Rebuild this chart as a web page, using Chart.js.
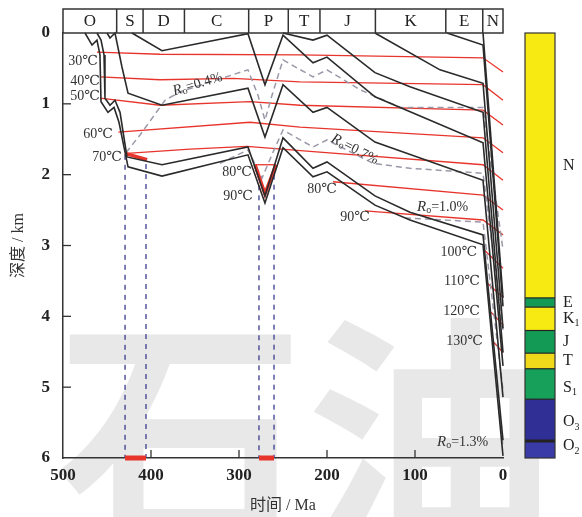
<!DOCTYPE html>
<html>
<head>
<meta charset="utf-8">
<script src="https://cdn.jsdelivr.net/npm/chart.js@4"></script>
<style>
  html, body { margin: 0; padding: 0; background: #fff; }
</style>
</head>
<body>
<canvas id="burialChart" width="582" height="517"></canvas>
<script>
const SERIF = "'Liberation Serif', 'DejaVu Serif', 'Noto Sans CJK SC', serif";

// axis ticks
const ageTicks = [500, 400, 300, 200, 100, 0];
const depthTicks = [0, 1, 2, 3, 4, 5, 6];

// geological periods along the top band (start age, Ma)
const periodNames = ["O", "S", "D", "C", "P", "T", "J", "K", "E", "N"];
const periodStart = [500, 439, 409, 362, 289, 244, 208, 145, 65, 23];

// burial history of horizons: [age Ma, depth km]
const horizonO2 = [[475,0],[467,0.17],[461.4,0.10],[458,0.31],[456.8,0.97],[448.9,1.12],[442,1.05],[436.4,1.26],[426.1,1.89],[387.5,2.02],[289.8,1.72],[270.5,2.40],[250,1.62],[215.9,2.03],[200,1.96],[145.5,2.43],[105.7,2.64],[22.7,2.99],[0,5.97]];
const horizonO3 = [[461.4,0],[456.8,0.10],[453.4,0.31],[452.3,0.92],[446.6,1.02],[440.9,0.95],[435.2,1.12],[427.3,1.75],[387.5,1.86],[289.8,1.61],[270.5,2.30],[250,1.48],[215.9,1.91],[200,1.82],[145.5,2.30],[105.7,2.53],[22.7,2.85],[0,5.75]];
const horizonS1 = [[450,0],[446.6,0.07],[440.9,0],[433,0.48],[426.1,0.85],[387.5,1.02],[289.8,0.78],[270.5,1.47],[250,0.73],[215.9,1.12],[200,1.05],[145.5,1.54],[22.7,2.08],[0,5.14]];
const horizonS2 = [[421.6,0],[387.5,0.25],[289.8,0.01],[270.5,0.73],[250,0.03],[215.9,0.42],[200,0.34],[145.5,0.90],[22.7,1.55],[0,4.70]];
const horizonT = [[250,0],[215.9,0.10],[200,0.03],[145.5,0.56],[105.7,0.76],[22.7,1.12],[0,4.51]];
const horizonK = [[145.5,0],[71.6,0.52],[22.7,0.71],[0,4.17]];
const horizonE = [[63.6,0],[22.7,0.17],[0,3.86]];
const horizonN = [[22.7,0],[0,3.74]];

// isotherms
const iso30 = [[461.4,0.27],[389.8,0.30],[230.7,0.31],[22.7,0.35],[0,0.55]];
const iso40 = [[458,0.62],[389.8,0.66],[306.8,0.64],[230.7,0.69],[22.7,0.73],[0,0.95]];
const iso50 = [[458,0.92],[389.8,1.02],[287.5,0.97],[230.7,1.02],[22.7,1.09],[0,1.30]];
const iso60 = [[437,1.40],[287.5,1.26],[230.7,1.33],[22.7,1.48],[0,1.69]];
const iso70 = [[427.3,1.70],[355.7,1.64],[290.9,1.60],[219.3,1.67],[22.7,1.86],[0,2.08]];
const iso80a = [[281.8,1.86],[258,1.86]];
const iso80b = [[193.2,2.10],[22.7,2.29],[0,2.50]];
const iso90 = [[156.8,2.51],[22.7,2.64],[0,2.85]];
const iso100 = [[21.6,3.06],[0,3.32]];
const iso110 = [[18.2,3.53],[0,3.73]];
const iso120 = [[13.6,3.94],[0,4.12]];
const iso130 = [[12.5,4.34],[0,4.51]];

// vitrinite reflectance iso-lines
const ro04 = [[428.4,1.69],[412.5,1.44],[384.1,0.95],[367,0.83],[289.8,0.52],[278.4,0.88],[270.5,1.23],[262.5,0.88],[250,0.38],[215.9,0.62],[200,0.52],[162.5,0.80],[117,1.05],[22.7,1.05],[0,3.06]];
const ro07 = [[321.6,1.84],[289.8,1.65],[273.9,2.05],[260.2,1.65],[250,1.37],[215.9,1.61],[200,1.51],[147.7,1.84],[105.7,1.91],[22.7,1.98],[0,4.19]];
const ro10 = [[111.4,2.61],[22.7,2.67],[0,5.04]];
const ro13 = [[5,5.3],[0,5.85]];

// hydrocarbon generation windows
const windowS = [[429.5,1.70],[404.5,1.79]];
const windowP = [[281.8,1.86],[270.5,2.27],[258,1.86]];
const windowAges = [429.5, 405.7, 277.3, 260.2];
const windowTops = [1.72, 1.85, 2.15, 2.0];

// stratigraphic column
const layerNames = ["N", "E", "K", "J", "T", "S", "O", "O"];
const layerSubs = ["", "", "1", "", "", "1", "3", "2"];
const layerTop = [0, 3.74, 3.87, 4.20, 4.52, 4.74, 5.17, 5.76];
const layerBase = [3.74, 3.87, 4.20, 4.52, 4.74, 5.17, 5.76, 6.0];
const layerColors = ["#f7ea12", "#139a55", "#f7ea12", "#139a55", "#f0d91a", "#17a05a", "#2f2f96", "#3b3ba8"];

// labels
const tempLabels = [["30℃",460.2,0.40],["40℃",458,0.68],["50℃",458,0.89],["60℃",443.2,1.43],["70℃",433,1.75],
  ["80℃",285.2,1.96],["90℃",284.1,2.30],["80℃",188.6,2.20],["90℃",151.1,2.60],
  ["100℃",29.5,3.09],["110℃",26.1,3.50],["120℃",26.1,3.93],["130℃",22.7,4.35]];
const roLabels = [["0.4",375,0.83,-17],["0.7",194.3,1.48,27],["1.0",97.7,2.46,0],["1.3",75,5.78,0]];

const toPts = arr => arr.map(p => ({ x: p[0], y: p[1] }));

function line(data, color, width, dash, order) {
  return { data: toPts(data), showLine: true, borderColor: color, borderWidth: width,
    borderDash: dash || [], pointRadius: 0, fill: false, tension: 0, order: order, clip: 8 };
}

const BLACK = "#2a2a2a", RED = "#e8352c", GREY = "#9b98a8", BLUE = "#3b3b8e";

const datasets = [];
[horizonO2, horizonO3, horizonS1, horizonS2, horizonT, horizonK, horizonE, horizonN]
  .forEach(h => datasets.push(line(h, BLACK, 1.6, null, 1)));
[iso30, iso40, iso50, iso60, iso70, iso80a, iso80b, iso90, iso100, iso110, iso120, iso130]
  .forEach(h => datasets.push(line(h, RED, 1.3, null, 4)));
[ro04, ro07, ro10, ro13].forEach(h => datasets.push(line(h, GREY, 1.5, [6, 4], 3)));
datasets.push(line(windowS, RED, 3.5, null, 2));
datasets.push(line(windowP, RED, 3.5, null, 2));
windowAges.forEach((a, i) => datasets.push(line([[a, windowTops[i]], [a, 6]], BLUE, 1.3, [5, 5], 5)));
datasets.push(line([[windowAges[0], 6], [windowAges[1], 6]], RED, 5, null, 2));
datasets.push(line([[windowAges[2], 6], [windowAges[3], 6]], RED, 5, null, 2));

function drawRo(ctx, x, y, val, angle) {
  ctx.save();
  ctx.translate(x, y);
  ctx.rotate(angle * Math.PI / 180);
  ctx.fillStyle = "#333";
  ctx.textBaseline = "middle";
  ctx.textAlign = "left";
  ctx.font = "italic 15px " + SERIF;
  ctx.fillText("R", 0, 0);
  let w = ctx.measureText("R").width;
  ctx.font = "10px " + SERIF;
  ctx.fillText("o", w, 3);
  w += ctx.measureText("o").width;
  ctx.font = "14px " + SERIF;
  ctx.fillText("=" + val + "%", w, 0);
  ctx.restore();
}

const overlay = {
  id: "overlay",
  beforeDraw(chart) {
    const c = chart.ctx;
    c.save();
    c.fillStyle = "#fff";
    c.fillRect(0, 0, chart.width, chart.height);
    c.font = "bold 250px 'Noto Sans CJK SC'";
    c.fillStyle = "rgba(140,140,140,0.2)";
    c.textBaseline = "top";
    c.fillText("石油", 55, 310);
    c.restore();
  },
  afterDraw(chart) {
    const c = chart.ctx, xs = chart.scales.x, ys = chart.scales.y;
    const area = chart.chartArea;
    c.save();
    // period band
    const top = area.top - 24;
    c.strokeStyle = "#333";
    c.lineWidth = 1.5;
    c.strokeRect(area.left, top, area.right - area.left, area.top - top);
    c.font = "17px " + SERIF;
    c.fillStyle = "#222";
    c.textAlign = "center";
    c.textBaseline = "middle";
    periodNames.forEach((p, i) => {
      const x0 = xs.getPixelForValue(periodStart[i]);
      const x1 = xs.getPixelForValue(i + 1 < periodStart.length ? periodStart[i + 1] : 0);
      if (i > 0) {
        c.beginPath(); c.moveTo(x0, top); c.lineTo(x0, area.top); c.stroke();
      }
      c.fillText(p, (x0 + x1) / 2, (top + area.top) / 2 + 1);
    });
    // inward ticks
    c.lineWidth = 1.3;
    ageTicks.slice(1, -1).forEach(v => {
      const x = xs.getPixelForValue(v);
      c.beginPath(); c.moveTo(x, area.bottom); c.lineTo(x, area.bottom - 8); c.stroke();
    });
    depthTicks.slice(1, -1).forEach(v => {
      const y = ys.getPixelForValue(v);
      c.beginPath(); c.moveTo(area.left, y); c.lineTo(area.left + 8, y); c.stroke();
    });
    // temperature labels
    c.font = "14px " + SERIF;
    c.fillStyle = "#333";
    c.textAlign = "right";
    tempLabels.forEach(t => c.fillText(t[0], xs.getPixelForValue(t[1]), ys.getPixelForValue(t[2])));
    roLabels.forEach(r => drawRo(c, xs.getPixelForValue(r[1]), ys.getPixelForValue(r[2]), r[0], r[3]));
    // stratigraphic column
    const cx0 = 525, cx1 = 555;
    layerNames.forEach((n, i) => {
      const y0 = ys.getPixelForValue(layerTop[i]);
      const y1 = ys.getPixelForValue(layerBase[i]);
      c.fillStyle = layerColors[i];
      c.fillRect(cx0, y0, cx1 - cx0, y1 - y0);
      if (i > 0) {
        c.strokeStyle = "#222";
        c.lineWidth = i === 7 ? 3 : 1.2;
        c.beginPath(); c.moveTo(cx0, y0); c.lineTo(cx1, y0); c.stroke();
      }
    });
    c.strokeStyle = "#333";
    c.lineWidth = 1.2;
    c.strokeRect(cx0, ys.getPixelForValue(0), cx1 - cx0, ys.getPixelForValue(6) - ys.getPixelForValue(0));
    c.textAlign = "left";
    c.fillStyle = "#222";
    layerNames.forEach((n, i) => {
      let mid = (layerTop[i] + layerBase[i]) / 2;
      if (i === 7) mid -= 0.05;
      if (i === 6) mid += 0.03;
      if (i === 5) mid += 0.05;
      const y = ys.getPixelForValue(mid);
      c.font = "16px " + SERIF;
      c.fillText(n, 563, y);
      if (layerSubs[i]) {
        const w = c.measureText(n).width;
        c.font = "10px " + SERIF;
        c.fillText(layerSubs[i], 563 + w, y + 5);
      }
    });
    c.restore();
  }
};

new Chart(document.getElementById("burialChart"), {
  type: "scatter",
  data: { datasets: datasets },
  plugins: [overlay],
  options: {
    responsive: false,
    animation: false,
    devicePixelRatio: 1,
    layout: { padding: { top: 33, right: 79, left: 0, bottom: 0 } },
    plugins: { legend: { display: false }, tooltip: { enabled: false } },
    scales: {
      x: {
        type: "linear", reverse: true, min: 0, max: 500,
        afterBuildTicks: s => { s.ticks = ageTicks.map(v => ({ value: v })); },
        afterFit: s => { s.height = 59; },
        grid: { drawOnChartArea: false, drawTicks: false },
        border: { color: "#333", width: 1.5 },
        ticks: { padding: 7, color: "#222", font: { family: SERIF, size: 17, weight: "bold" } },
        title: { display: true, text: "时间 / Ma", color: "#333", padding: { top: 4, bottom: 2 },
          font: { family: SERIF, size: 16 } }
      },
      y: {
        type: "linear", reverse: true, min: 0, max: 6,
        afterBuildTicks: s => { s.ticks = depthTicks.map(v => ({ value: v })); },
        afterFit: s => { s.width = 63; },
        grid: { drawOnChartArea: false, drawTicks: false },
        border: { color: "#333", width: 1.5 },
        ticks: { padding: 13, color: "#222", font: { family: SERIF, size: 17, weight: "bold" } },
        title: { display: true, text: "深度 / km", color: "#333", padding: 9,
          font: { family: SERIF, size: 16 } }
      }
    }
  }
});
</script>
</body>
</html>
